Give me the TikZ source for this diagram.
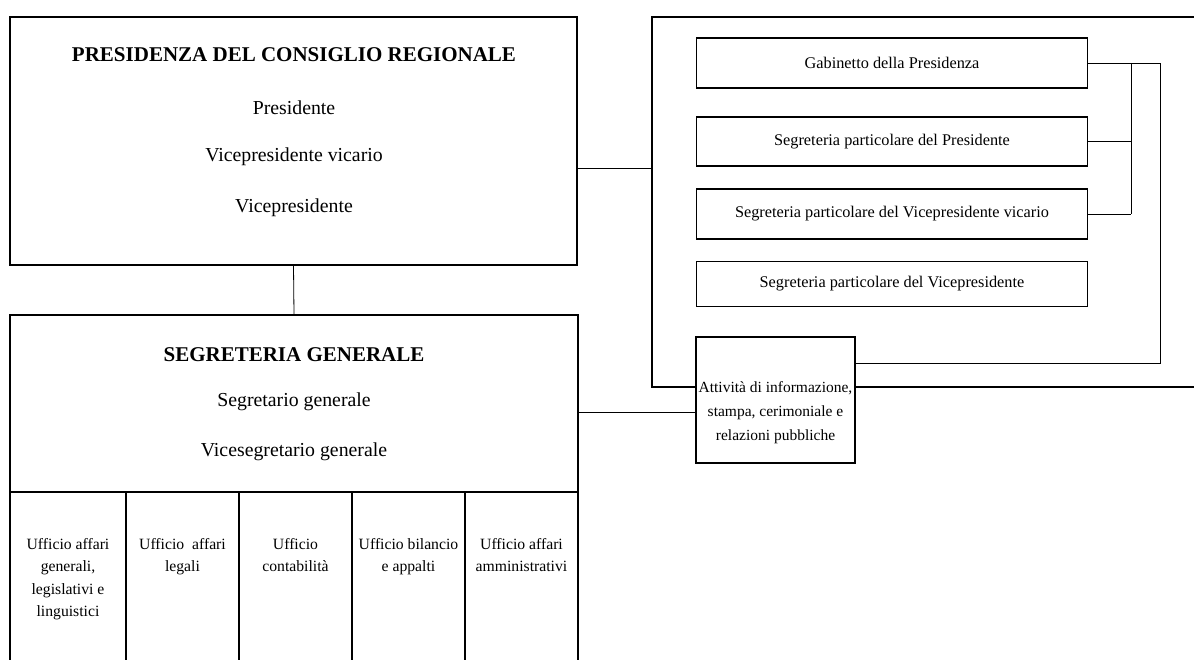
\documentclass[tikz,border=0pt]{standalone}
\usepackage{fontspec}
\setmainfont{Liberation Serif}
\begin{document}
\begin{tikzpicture}[x=1pt,y=-1pt,
  box/.style={draw,line width=1.2pt,rectangle,inner sep=0pt},
  conn/.style={line width=0.8pt},
  frm/.style={line width=1.3pt},
  big/.style={font=\fontsize{19.8}{23}\selectfont,inner sep=0pt},
  ttl/.style={font=\fontsize{21}{25}\selectfont\bfseries,inner sep=0pt},
  small/.style={font=\fontsize{16.3}{22.5}\selectfont,align=center,inner sep=0pt},
  att/.style={font=\fontsize{15.5}{24}\selectfont,align=center,inner sep=0pt},
  cellt/.style={font=\fontsize{15.7}{22.5}\selectfont,align=center,inner sep=0pt,anchor=north},
]
\clip (0,0) rectangle (1194,660);
\fill[white] (0,0) rectangle (1194,660);

% Presidenza
\node[box,minimum width=567pt,minimum height=248pt] (pres) at (293.5,141) {};
\node[ttl] (presT) at (294,55) {PRESIDENZA DEL CONSIGLIO REGIONALE};
\node[big] (p1) at (294,108) {Presidente};
\node[big] (p2) at (294,157) {Vicepresidente vicario};
\node[big] (p3) at (294,208) {Vicepresidente};

% Segreteria generale
\node[box,minimum width=568pt,minimum height=177pt] (seg) at (294,403.5) {};
\node[ttl] (segT) at (294,355) {SEGRETERIA GENERALE};
\node[big] (s1) at (294,402) {Segretario generale};
\node[big] (s2) at (294,452) {Vicesegretario generale};

% cells
\node[box,minimum width=116pt,minimum height=220pt] (c1) at (68,602) {};
\node[box,minimum width=113pt,minimum height=220pt] (c2) at (182.5,602) {};
\node[box,minimum width=113pt,minimum height=220pt] (c3) at (295.5,602) {};
\node[box,minimum width=113pt,minimum height=220pt] (c4) at (408.5,602) {};
\node[box,minimum width=113pt,minimum height=220pt] (c5) at (521.5,602) {};
\node[cellt] (c1t) at (68,538) {Ufficio affari\\generali,\\legislativi e\\linguistici};
\node[cellt] (c2t) at (182.5,538) {Ufficio\enspace affari\\legali};
\node[cellt] (c3t) at (295.5,538) {Ufficio\\contabilità};
\node[cellt] (c4t) at (408.5,538) {Ufficio bilancio\\e appalti};
\node[cellt] (c5t) at (521.5,538) {Ufficio affari\\amministrativi};

% right frame
\coordinate (fTR) at (1194,17);
\coordinate (fTL) at (652,17);
\coordinate (fBL) at (652,387);
\coordinate (fBR) at (1194,387);
\draw[frm] (fTR) -- (fTL) -- (fBL) -- (fBR);

% right boxes
\node[box,small,minimum width=391pt,minimum height=50pt] (gab) at (892,63) {Gabinetto della Presidenza};
\node[box,small,minimum width=391pt,minimum height=49pt] (sp) at (892,141.5) {Segreteria particolare del Presidente};
\node[box,small,minimum width=391pt,minimum height=50pt] (vpv) at (892,214) {Segreteria particolare del Vicepresidente vicario};
\node[box,small,minimum width=391pt,minimum height=45pt] (vp) at (892,284) {Segreteria particolare del Vicepresidente};

% Attivita box
\node[box,fill=white,minimum width=159pt,minimum height=126pt] (att) at (775.5,400) {};
\node[att] (attT) at (775.5,413) {Attività di informazione,\\stampa, cerimoniale e\\relazioni pubbliche};

% connectors
\coordinate (busL) at (1131,0);
\coordinate (busR) at (1160,363);
\coordinate (attc) at (att.east |- busR);
\coordinate (frameL) at (652,168);
\coordinate (attin) at (att.west |- 0,412);

\draw[conn] (pres.south) -- (seg.north);
\draw[conn] (pres.east |- frameL) -- (frameL);
\draw[conn] (seg.east |- attin) -- (attin);
\draw[conn] (gab.east) -- (gab.east -| busR) -- (busR) -- (attc);
\draw[conn] (gab.east -| busL) -- (vpv.east -| busL);
\draw[conn] (sp.east) -- (sp.east -| busL);
\draw[conn] (vpv.east) -- (vpv.east -| busL);
\end{tikzpicture}
\end{document}
